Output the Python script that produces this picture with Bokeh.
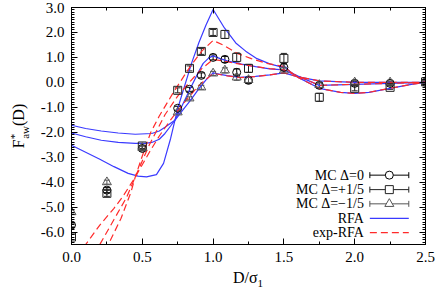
from bokeh.plotting import figure
from bokeh.layouts import row, column
from bokeh.models import (ColumnDataSource, Whisker, TeeHead, LinearAxis, Label, Div,
                          SingleIntervalTicker, PrintfTickFormatter, Range1d,
                          CustomJSTickFormatter)
from bokeh.embed import file_html
from bokeh.resources import INLINE

# ---------------- data ----------------
D_mc = [0.0, 0.25, 0.5, 0.75, 0.8333, 0.9167, 1.0, 1.0833, 1.1667, 1.25, 1.5, 1.75, 2.0, 2.25, 2.5]
F_mc0 = [-5.72, -4.32, -2.65, -1.04, -0.28, 0.28, 1.0, 0.92, 0.40, 0.08, 0.60, -0.12, -0.04, -0.04, 0.0]
F_mcp = [-6.20, -4.45, -2.55, -0.32, 0.56, 1.24, 2.0, 1.92, 1.00, 0.56, 0.96, -0.60, -0.24, -0.20, 0.02]
F_mcm = [-5.20, -4.00, -2.62, -1.20, -0.64, -0.20, 0.36, 0.48, 0.20, 0.10, 0.48, -0.10, 0.0, 0.0, 0.04]
E_mc0 = [0.08, 0.10, 0.10, 0.08, 0.08, 0.10, 0.10, 0.12, 0.14, 0.12, 0.14, 0.10, 0.08, 0.06, 0.04]
E_mcp = [0.10, 0.12, 0.10, 0.10, 0.10, 0.12, 0.12, 0.16, 0.18, 0.16, 0.20, 0.16, 0.10, 0.08, 0.04]
E_mcm = [0.08, 0.08, 0.08, 0.06, 0.06, 0.08, 0.08, 0.10, 0.12, 0.12, 0.12, 0.10, 0.08, 0.06, 0.04]

D_rfa_p = [0.0, 0.1, 0.2, 0.3, 0.4, 0.47, 0.53, 0.6, 0.65, 0.7, 0.75, 0.8, 0.85, 0.9, 0.95, 1.0,
           1.04, 1.08, 1.12, 1.16, 1.23, 1.31, 1.4, 1.48, 1.5, 1.55, 1.6, 1.75, 1.9, 2.0, 2.1, 2.25, 2.4, 2.5]
F_rfa_p = [-2.52, -2.8, -3.08, -3.38, -3.65, -3.76, -3.79, -3.7, -3.25, -2.25, -1.05, -0.12, 0.8, 1.6, 2.3, 2.92,
           2.55, 2.18, 1.88, 1.58, 1.25, 0.95, 0.74, 0.62, 0.66, 0.4, 0.2, -0.24, -0.4, -0.44, -0.4, -0.24, -0.08, 0.0]

D_rfa_0 = [0.0, 0.1, 0.21, 0.33, 0.45, 0.52, 0.567, 0.62, 0.66, 0.7, 0.73, 0.78, 0.84, 0.9, 0.93, 0.97, 1.0,
           1.05, 1.1, 1.2, 1.3, 1.4, 1.5, 1.6, 1.75, 2.0, 2.25, 2.5]
F_rfa_0 = [-2.03, -2.18, -2.32, -2.41, -2.45, -2.45, -2.41, -2.28, -2.05, -1.75, -1.52, -0.95, -0.24, 0.45, 0.76, 0.98, 1.06,
           0.95, 0.86, 0.73, 0.63, 0.54, 0.5, 0.25, -0.12, -0.08, -0.04, 0.0]

D_rfa_m = [0.0, 0.1, 0.21, 0.33, 0.45, 0.567, 0.62, 0.66, 0.73, 0.78, 0.84, 0.9, 0.95, 1.0,
           1.05, 1.1, 1.19, 1.3, 1.4, 1.5, 1.6, 1.75, 2.0, 2.25, 2.5]
F_rfa_m = [-1.72, -1.85, -1.95, -2.03, -2.08, -2.05, -1.95, -1.8, -1.52, -1.15, -0.72, -0.25, 0.1, 0.38,
           0.32, 0.27, 0.2, 0.24, 0.3, 0.38, 0.22, 0.06, 0.0, 0.0, 0.0]

D_exp_p = [0.24, 0.26, 0.35, 0.42, 0.45, 0.5, 0.56, 0.62, 0.72, 0.84, 0.92, 1.0, 1.076, 1.17, 1.27, 1.38,
           1.5, 1.55, 1.6, 1.75, 1.9, 2.0, 2.1, 2.25, 2.4, 2.5]
F_exp_p = [-6.75, -6.5, -5.45, -4.4, -3.8, -2.95, -2.0, -1.35, -0.4, 0.65, 1.25, 1.68, 1.48, 1.16, 0.95, 0.76,
           0.64, 0.4, 0.2, -0.24, -0.4, -0.44, -0.4, -0.24, -0.08, 0.0]

D_exp_0 = [0.17, 0.2, 0.3, 0.39, 0.45, 0.55, 0.66, 0.75, 0.84, 0.92, 1.0, 1.08, 1.2, 1.3, 1.4, 1.5,
           1.6, 1.75, 2.0, 2.25, 2.5]
F_exp_0 = [-6.9, -6.5, -5.5, -4.6, -3.8, -2.5, -1.3, -0.55, 0.05, 0.55, 0.92, 0.85, 0.72, 0.63, 0.55, 0.5,
           0.25, -0.12, -0.08, -0.04, 0.0]

D_exp_m = [0.05, 0.1, 0.2, 0.3, 0.36, 0.45, 0.55, 0.62, 0.7, 0.8, 0.9, 1.0, 1.1, 1.19, 1.3, 1.4, 1.5,
           1.6, 1.75, 2.0, 2.25, 2.5]
F_exp_m = [-7.0, -6.5, -5.72, -5.05, -4.6, -3.8, -2.8, -2.15, -1.5, -0.78, -0.12, 0.36, 0.26, 0.19, 0.23, 0.3, 0.38,
           0.22, 0.06, 0.0, 0.0, 0.0]

legend_labels = ["MC \u0394=0", "MC \u0394=+1/5", "MC \u0394=\u22121/5", "RFA", "exp-RFA"]

# ---------------- styling ----------------
BLUE = "#3a3aff"
RED = "#ff2a2a"
C_CIRC = "#000000"
C_SQ = "#222222"
C_TRI = "#555555"
FONT = "Liberation Serif"
YLAB_W = 30
XLAB_H = 19

p = figure(width=436 - YLAB_W, height=289 - XLAB_H, output_backend="svg", toolbar_location=None,
           x_range=Range1d(0, 2.5), y_range=Range1d(-6.5, 3.0),
           min_border_left=71 - YLAB_W, min_border_right=11, min_border_top=7,
           min_border_bottom=289 - XLAB_H - 244)
p.grid.visible = False
p.outline_line_color = "black"
p.outline_line_width = 1
p.background_fill_color = "white"
p.border_fill_color = "white"


def style_axis(ax, show_labels):
    ax.major_tick_in = 6
    ax.major_tick_out = 0
    ax.minor_tick_in = 3
    ax.minor_tick_out = 0
    ax.axis_line_color = "black"
    ax.major_tick_line_color = "black"
    ax.minor_tick_line_color = "black"
    if show_labels:
        ax.formatter = PrintfTickFormatter(format="%.1f")
        ax.major_label_text_font = FONT
        ax.major_label_text_font_size = "15px"
        ax.major_label_text_color = "black"
        ax.major_label_standoff = 7
    else:
        ax.formatter = CustomJSTickFormatter(code="return ''")
        ax.major_label_text_font_size = "1px"
        ax.major_label_standoff = 0


p.xaxis.ticker = SingleIntervalTicker(interval=0.5, num_minor_ticks=2)
p.yaxis.ticker = SingleIntervalTicker(interval=1.0, num_minor_ticks=10)
style_axis(p.xaxis[0], True)
style_axis(p.yaxis[0], True)

top = LinearAxis(ticker=SingleIntervalTicker(interval=0.5, num_minor_ticks=2))
right = LinearAxis(ticker=SingleIntervalTicker(interval=1.0, num_minor_ticks=10))
style_axis(top, False)
style_axis(right, False)
p.add_layout(top, "above")
p.add_layout(right, "right")

# ---------------- curves ----------------
for xs, ys in [(D_rfa_p, F_rfa_p), (D_rfa_0, F_rfa_0), (D_rfa_m, F_rfa_m)]:
    p.line(xs, ys, line_color=BLUE, line_width=1.2)
for xs, ys in [(D_exp_p, F_exp_p), (D_exp_0, F_exp_0), (D_exp_m, F_exp_m)]:
    p.line(xs, ys, line_color=RED, line_width=1.2, line_dash="7 4")

# ---------------- MC points ----------------
for ys, es, marker, col, size in [(F_mc0, E_mc0, "circle", C_CIRC, 8),
                                  (F_mcp, E_mcp, "square", C_SQ, 8),
                                  (F_mcm, E_mcm, "triangle", C_TRI, 9)]:
    src = ColumnDataSource(dict(x=D_mc, y=ys,
                                lo=[a - b for a, b in zip(ys, es)],
                                hi=[a + b for a, b in zip(ys, es)]))
    p.add_layout(Whisker(source=src, base="x", lower="lo", upper="hi", dimension="height",
                         line_color=col, line_width=1,
                         lower_head=TeeHead(size=6, line_color=col, line_width=1),
                         upper_head=TeeHead(size=6, line_color=col, line_width=1)))
    p.scatter("x", "y", source=src, marker=marker, size=size, fill_color=None,
              line_color=col, line_width=1)

# ---------------- legend (gnuplot style: text then sample) ----------------
leg_y = [-3.72, -4.30, -4.87, -5.45, -6.02]
tx, s0, s1 = 2.065, 2.107, 2.382
sm = 0.5 * (s0 + s1)
cap = 0.12
for i, lab in enumerate(legend_labels):
    p.add_layout(Label(x=tx, y=leg_y[i], text=lab, text_align="right", text_baseline="middle",
                       text_font=FONT, text_font_size="14px", text_color="black"))
for i, (marker, col, size) in enumerate([("circle", C_CIRC, 8), ("square", C_SQ, 8), ("triangle", C_TRI, 9)]):
    yy = leg_y[i]
    p.segment([s0, s0, s1], [yy, yy - cap, yy - cap], [s1, s0, s1], [yy, yy + cap, yy + cap],
              line_color=col, line_width=1)
    p.scatter([sm], [yy], marker=marker, size=size, fill_color="white", line_color=col, line_width=1)
p.line([s0, s1], [leg_y[3], leg_y[3]], line_color=BLUE, line_width=1.2)
p.line([s0, s1], [leg_y[4], leg_y[4]], line_color=RED, line_width=1.2, line_dash="7 4")

# ---------------- axis titles as HTML (sub/superscripts) ----------------
ylab = Div(width=YLAB_W, height=289, margin=0, text=(
    '<div style="position:relative;width:30px;height:289px;">'
    '<div style="position:absolute;left:-26px;top:116px;width:80px;height:20px;line-height:20px;'
    'text-align:center;transform:rotate(-90deg);white-space:nowrap;'
    "font-family:'Liberation Serif';font-size:16px;color:black;\">"
    'F<sup style="font-size:11px;">*</sup>'
    '<sub style="font-size:11px;margin-left:-5px;">aw</sub>(D)</div></div>'))

xlab = Div(width=436 - YLAB_W, height=XLAB_H, margin=0, text=(
    '<div style="position:relative;width:406px;height:19px;">'
    '<div style="position:absolute;left:178px;top:-2px;width:80px;height:20px;line-height:20px;'
    'text-align:center;white-space:nowrap;'
    "font-family:'Liberation Serif';font-size:16px;color:black;\">"
    'D/\u03c3<sub style="font-size:11px;">1</sub></div></div>'))

layout = row(ylab, column(p, xlab, spacing=0), spacing=0)

open("out.html", "w").write(file_html(layout, INLINE))
